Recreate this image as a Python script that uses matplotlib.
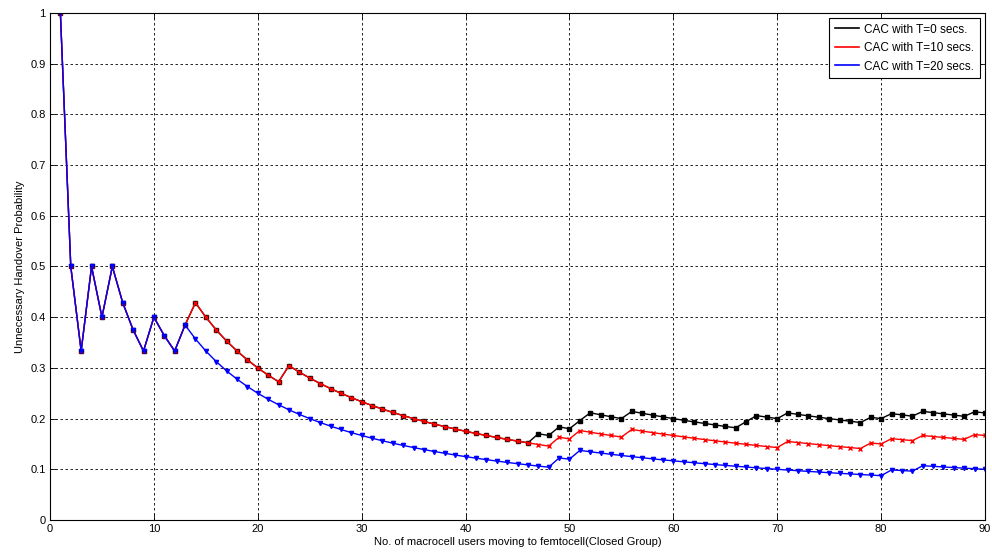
import matplotlib
matplotlib.use("Agg")
import matplotlib.pyplot as plt
from matplotlib.lines import Line2D

plt.rcParams['font.family'] = ['Liberation Sans', 'DejaVu Sans']

# users moving to the femtocell
users = list(range(1, 91))

# shared start, x = 1..13
start = [1.0, 0.5, 0.3333, 0.5, 0.4, 0.5, 0.4286, 0.375, 0.3333, 0.4,
         0.3636, 0.3333, 0.3846]

# T = 10 s, x = 14..90
t10_tail = [0.4286, 0.4, 0.375, 0.3529, 0.3333, 0.3158, 0.3, 0.2857, 0.2727,
            0.3043, 0.2917, 0.28, 0.2692, 0.2593, 0.25, 0.2414, 0.2333, 0.2258,
            0.2188, 0.2121, 0.2059, 0.2, 0.1944, 0.1892, 0.1842, 0.1795, 0.175,
            0.1707, 0.1667, 0.1628, 0.1591, 0.1556, 0.1522, 0.1489, 0.1458,
            0.1633, 0.16, 0.1765, 0.1731, 0.1698, 0.1667, 0.1636,
            0.1786, 0.1754, 0.1724, 0.1695, 0.1667, 0.1639, 0.1613, 0.1587,
            0.1563, 0.1538, 0.1515, 0.1493, 0.1471, 0.1449, 0.1429,
            0.1549, 0.1528, 0.1507, 0.1486, 0.1467, 0.1447, 0.1429, 0.141,
            0.1519, 0.15, 0.1605, 0.1585, 0.1566,
            0.1667, 0.1647, 0.1628, 0.1609, 0.1591, 0.1685, 0.1667]

# T = 0 s, x = 47..90 (before that it follows T = 10 s)
t0_tail = [0.1702, 0.1667, 0.1837, 0.18, 0.1961, 0.2115, 0.2075, 0.2037, 0.2,
           0.2143, 0.2105, 0.2069, 0.2034, 0.2, 0.1967, 0.1935, 0.1905, 0.1875,
           0.1846, 0.1818, 0.194, 0.2059, 0.2029, 0.2, 0.2113, 0.2083, 0.2055,
           0.2027, 0.2, 0.1974, 0.1948, 0.1923, 0.2025, 0.2, 0.2099, 0.2073,
           0.2048, 0.2143, 0.2118, 0.2093, 0.2069, 0.2045, 0.2135, 0.2111]

# T = 20 s, x = 14..90
t20_tail = [0.3571, 0.3333, 0.3125, 0.2941, 0.2778, 0.2632, 0.25, 0.2381, 0.2273,
            0.2174, 0.2083, 0.2, 0.1923, 0.1852, 0.1786, 0.1724, 0.1667, 0.1613,
            0.1563, 0.1515, 0.1471, 0.1429, 0.1389, 0.1351, 0.1316, 0.1282, 0.125,
            0.122, 0.119, 0.1163, 0.1136, 0.1111, 0.1087, 0.1064, 0.1042,
            0.1224, 0.12,
            0.1373, 0.1346, 0.1321, 0.1296, 0.1273, 0.125, 0.1228, 0.1207, 0.1186,
            0.1167, 0.1148, 0.1129, 0.1111, 0.1094, 0.1077, 0.1061, 0.1045, 0.1029,
            0.1014, 0.1, 0.0986, 0.0972, 0.0959, 0.0946, 0.0933, 0.0921, 0.0909,
            0.0897, 0.0886, 0.0875,
            0.0988, 0.0976, 0.0964,
            0.1071, 0.1059, 0.1047, 0.1034, 0.1023, 0.1011, 0.1]

t10 = start + t10_tail
t0 = t10[:46] + t0_tail
t20 = start + t20_tail

series = [
    ("CAC with T=0 secs.", t0, "black", "s"),
    ("CAC with T=10 secs.", t10, "red", "x"),
    ("CAC with T=20 secs.", t20, "blue", "v"),
]

fig = plt.figure(figsize=(9.92, 5.57), dpi=100)
ax = fig.add_axes([0.0504, 0.0664, 0.9426, 0.9103])

handles = []
for label, vals, color, marker in series:
    ax.plot(users, vals, color=color, marker=marker, markersize=3,
            linewidth=1.0, markeredgewidth=1.0)
    handles.append(Line2D([], [], color=color, linewidth=1.2, label=label))

ax.set_xlim(0, 90)
ax.set_ylim(0, 1)
ax.set_xticks(range(0, 91, 10))
ax.set_yticks([i / 10 for i in range(11)])
ax.set_yticklabels(["0", "0.1", "0.2", "0.3", "0.4", "0.5", "0.6", "0.7",
                    "0.8", "0.9", "1"])
ax.tick_params(direction='in', top=True, right=True, length=4, width=0.6,
               labelsize=8, pad=3)
ax.grid(True, color='black', linestyle=(0, (3, 3)), linewidth=0.6)
for sp in ax.spines.values():
    sp.set_linewidth(0.8)

ax.set_xlabel("No. of macrocell users moving to femtocell(Closed Group)",
              fontsize=8, labelpad=2)
ax.set_ylabel("Unnecessary Handover Probability", fontsize=8, labelpad=4)

leg = ax.legend(handles=handles, loc='upper right', fontsize=8.5,
                fancybox=False, framealpha=1, edgecolor='black',
                borderaxespad=0.4, handlelength=2.0, handletextpad=0.5,
                borderpad=0.5, labelspacing=0.55)
leg.get_frame().set_linewidth(0.8)

fig.savefig("out.png", dpi=100)
